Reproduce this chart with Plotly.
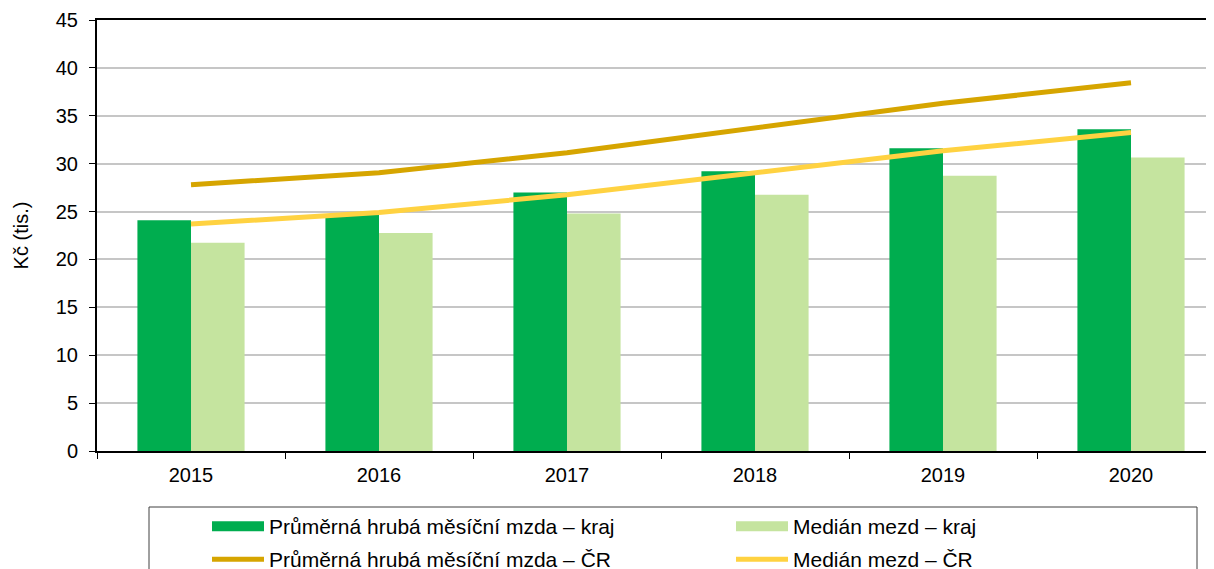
import plotly.graph_objects as go

years = ["2015", "2016", "2017", "2018", "2019", "2020"]
avg_kraj = [24.1, 24.7, 27.0, 29.2, 31.6, 33.6]
med_kraj = [21.75, 22.75, 24.8, 26.75, 28.75, 30.65]
avg_cr = [27.8, 29.05, 31.15, 33.7, 36.3, 38.45]
med_cr = [23.7, 24.9, 26.75, 29.0, 31.35, 33.25]

names = [
    "Průměrná hrubá měsíční mzda – kraj",
    "Medián mezd – kraj",
    "Průměrná hrubá měsíční mzda – ČR",
    "Medián mezd – ČR",
]
colors = ["#00AD4F", "#C5E49F", "#D6A500", "#FFD241"]

FONT = "Liberation Sans, Arial, sans-serif"

# page geometry (figure sits at page offset 8,8 because of body margin)
W, H = 1198, 620
L, T = 89, 12
PLOT_H = 431
B = H - T - PLOT_H
PLOT_W = W - L
CAT_W = 188.0
xr_max = -0.5 + PLOT_W / CAT_W


def px_to_paper_x(px):
    return (px - 8 - L) / PLOT_W


def px_to_paper_y(py):
    return (8 + T + PLOT_H - py) / PLOT_H


fig = go.Figure()
fig.add_trace(go.Bar(x=years, y=avg_kraj, name=names[0], legendgroup="g0", showlegend=False,
                     marker=dict(color=colors[0], line=dict(width=0))))
fig.add_trace(go.Bar(x=years, y=med_kraj, name=names[1], legendgroup="g1", showlegend=False,
                     marker=dict(color=colors[1], line=dict(width=0))))
fig.add_trace(go.Scatter(x=years, y=avg_cr, name=names[2], mode="lines", legend="legend3",
                         line=dict(color=colors[2], width=5)))
fig.add_trace(go.Scatter(x=years, y=med_cr, name=names[3], mode="lines", legend="legend4",
                         line=dict(color=colors[3], width=5)))
# legend-only entries showing the bar colours as wide rectangles
fig.add_trace(go.Scatter(x=[None], y=[None], name=names[0], legendgroup="g0", mode="lines",
                         line=dict(color=colors[0], width=11), legend="legend"))
fig.add_trace(go.Scatter(x=[None], y=[None], name=names[1], legendgroup="g1", mode="lines",
                         line=dict(color=colors[1], width=11), legend="legend2"))

leg_common = dict(
    orientation="h", xanchor="left", yanchor="top",
    borderwidth=0, bgcolor="rgba(0,0,0,0)",
    itemwidth=52, tracegroupgap=0,
    font=dict(family=FONT, size=21, color="black"),
    itemclick=False, itemdoubleclick=False,
)

COL1_X, COL2_X = 207, 731
ROW1_Y, ROW2_Y = 506, 539

fig.update_layout(
    width=W, height=H, autosize=False,
    margin=dict(l=L, r=0, t=T, b=B, pad=0),
    paper_bgcolor="white", plot_bgcolor="white",
    barmode="group", bargap=0.43, bargroupgap=0,
    font=dict(family=FONT, size=20, color="black"),
    showlegend=True,
    legend=dict(x=px_to_paper_x(COL1_X), y=px_to_paper_y(ROW1_Y), **leg_common),
    legend2=dict(x=px_to_paper_x(COL2_X), y=px_to_paper_y(ROW1_Y), **leg_common),
    legend3=dict(x=px_to_paper_x(COL1_X), y=px_to_paper_y(ROW2_Y), **leg_common),
    legend4=dict(x=px_to_paper_x(COL2_X), y=px_to_paper_y(ROW2_Y), **leg_common),
    xaxis=dict(
        type="category", range=[-0.5, xr_max],
        showline=True, linecolor="black", linewidth=2, mirror=True,
        ticks="outside", tickson="boundaries", ticklen=6, tickcolor="black", tickwidth=1,
        showgrid=False, tickfont=dict(size=20), ticklabelstandoff=5,
    ),
    yaxis=dict(
        range=[0, 45], dtick=5, tick0=0,
        showline=True, linecolor="black", linewidth=2,
        ticks="outside", ticklen=6, tickcolor="black", tickwidth=1,
        showgrid=True, gridcolor="#c6c6c6", gridwidth=1.5,
        zeroline=False, ticklabelstandoff=7,
        title=dict(text="Kč (tis.)", font=dict(size=20), standoff=22),
        tickfont=dict(size=20),
    ),
    shapes=[dict(
        type="rect", xref="paper", yref="paper",
        x0=px_to_paper_x(149), x1=px_to_paper_x(1197),
        y0=px_to_paper_y(507), y1=px_to_paper_y(640),
        line=dict(color="#404040", width=1), fillcolor="rgba(0,0,0,0)", layer="below",
    )],
)

fig.write_html("out.html")
